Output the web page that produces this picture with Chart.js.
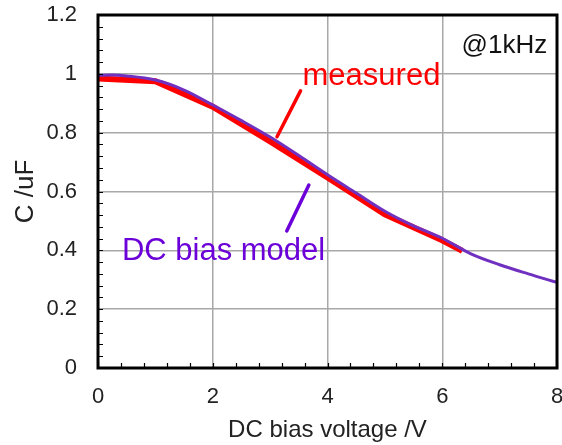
<!DOCTYPE html>
<html>
<head>
<meta charset="utf-8">
<script src="https://cdn.jsdelivr.net/npm/chart.js@4/dist/chart.umd.min.js"></script>
<style>
  html, body { margin: 0; padding: 0; background: #fff; }
  canvas { display: block; }
</style>
</head>
<body>
<canvas id="c" width="562" height="445"></canvas>
<script>
// DC bias voltage (V) and capacitance (uF)
const measuredV = [0, 1, 2, 3, 4, 5, 6, 6.35];
const measuredC = [0.984, 0.975, 0.888, 0.77, 0.648, 0.522, 0.434, 0.398];

const modelV = [0, 0.25, 0.5, 1, 1.5, 2, 2.5, 3, 3.5, 4, 4.5, 5, 5.5, 6, 6.5, 7, 7.5, 8];
const modelC = [0.995, 0.996, 0.993, 0.979, 0.945, 0.894, 0.841, 0.785, 0.722, 0.657, 0.595, 0.533, 0.483, 0.441, 0.388, 0.351, 0.320, 0.291];

const xTicks = [0, 2, 4, 6, 8];
const yTicks = [0, 0.2, 0.4, 0.6, 0.8, 1, 1.2];

const RED = '#ff0000';
const PURPLE_LINE = '#7030c0';
const PURPLE_TEXT = '#6b00d8';
const FONT = "'Liberation Sans', Arial, sans-serif";

const toPoints = (xs, ys) => xs.map((x, i) => ({ x, y: ys[i] }));

// Frame, inward minor ticks and the callouts
const decorations = {
  id: 'decorations',
  afterDatasetsDraw(chart) {
    const { ctx, chartArea: a, scales: { x, y } } = chart;
    ctx.save();

    // minor ticks pointing into the plot
    ctx.strokeStyle = '#000';
    ctx.lineWidth = 1.2;
    ctx.beginPath();
    for (let v = 0; v <= 8.0001; v += 0.4) {
      const px = Math.round(x.getPixelForValue(v)) + 0.5;
      ctx.moveTo(px, a.bottom);
      ctx.lineTo(px, a.bottom - 5);
    }
    for (let v = 0; v <= 1.2001; v += 0.04) {
      const py = Math.round(y.getPixelForValue(v)) + 0.5;
      ctx.moveTo(a.left, py);
      ctx.lineTo(a.left + 5, py);
    }
    ctx.stroke();

    // plot frame
    ctx.lineWidth = 3;
    ctx.strokeRect(a.left, a.top, a.right - a.left, a.bottom - a.top);

    // callout leaders
    ctx.lineCap = 'round';
    ctx.lineWidth = 3.5;
    ctx.strokeStyle = RED;
    ctx.beginPath();
    ctx.moveTo(x.getPixelForValue(3.53), y.getPixelForValue(0.942));
    ctx.lineTo(x.getPixelForValue(3.12), y.getPixelForValue(0.786));
    ctx.stroke();
    ctx.strokeStyle = PURPLE_TEXT;
    ctx.beginPath();
    ctx.moveTo(x.getPixelForValue(3.675), y.getPixelForValue(0.622));
    ctx.lineTo(x.getPixelForValue(3.29), y.getPixelForValue(0.466));
    ctx.stroke();

    // labels
    ctx.textBaseline = 'alphabetic';
    ctx.textAlign = 'left';
    ctx.font = `31px ${FONT}`;
    ctx.fillStyle = RED;
    ctx.fillText('measured', x.getPixelForValue(3.565), y.getPixelForValue(0.962));
    ctx.fillStyle = PURPLE_TEXT;
    ctx.fillText('DC bias model', x.getPixelForValue(0.417), y.getPixelForValue(0.367));
    ctx.textAlign = 'right';
    ctx.font = `26px ${FONT}`;
    ctx.fillStyle = '#111';
    ctx.fillText('@1kHz', x.getPixelForValue(7.83), y.getPixelForValue(1.071));

    ctx.restore();
  }
};

new Chart(document.getElementById('c'), {
  type: 'line',
  data: {
    datasets: [
      {
        label: 'DC bias model',
        data: toPoints(modelV, modelC),
        borderColor: PURPLE_LINE,
        borderWidth: 3,
        pointRadius: 0,
        tension: 0.4,
        cubicInterpolationMode: 'monotone',
        order: 0
      },
      {
        label: 'measured',
        data: toPoints(measuredV, measuredC),
        borderColor: RED,
        borderWidth: 6,
        pointRadius: 0,
        tension: 0,
        borderCapStyle: 'butt',
        order: 1
      }
    ]
  },
  options: {
    responsive: false,
    animation: false,
    events: [],
    layout: { padding: { left: 0, right: 5, top: 15, bottom: 0 } },
    plugins: { legend: { display: false }, tooltip: { enabled: false } },
    scales: {
      x: {
        type: 'linear',
        min: 0, max: 8,
        afterBuildTicks: s => { s.ticks = xTicks.map(v => ({ value: v })); },
        afterFit: s => { s.height = 77; s.paddingLeft = 0; s.paddingRight = 0; },
        grid: { color: '#a8a8a8', lineWidth: 1.5, drawTicks: false },
        border: { display: false },
        ticks: { padding: 16, color: '#222', font: { family: FONT, size: 22 }, maxRotation: 0, autoSkip: false, callback: v => String(v) },
        title: { display: true, text: 'DC bias voltage /V', color: '#222', font: { family: FONT, size: 24 }, padding: { top: 0, bottom: 0 } }
      },
      y: {
        min: 0, max: 1.2,
        afterBuildTicks: s => { s.ticks = yTicks.map(v => ({ value: v })); },
        afterFit: s => { s.width = 98; s.paddingTop = 0; s.paddingBottom = 0; },
        grid: { color: '#a8a8a8', lineWidth: 1.5, drawTicks: false },
        border: { display: false },
        ticks: { padding: 21, color: '#222', font: { family: FONT, size: 22 }, autoSkip: false, callback: v => String(v) },
        title: { display: true, text: 'C /uF', color: '#222', font: { family: FONT, size: 26 }, padding: { top: 10, bottom: 0 } }
      }
    }
  },
  plugins: [decorations]
});
</script>
</body>
</html>
